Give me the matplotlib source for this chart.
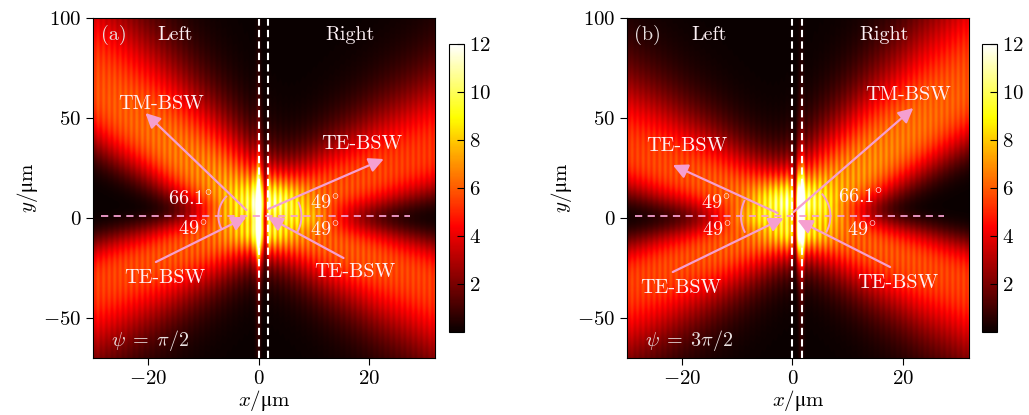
import numpy as np
import matplotlib
matplotlib.use("Agg")
import matplotlib.pyplot as plt

plt.rcParams["font.family"] = ["cmr10", "DejaVu Serif"]
plt.rcParams["mathtext.fontset"] = "cm"
plt.rcParams["axes.formatter.use_mathtext"] = True
plt.rcParams["axes.unicode_minus"] = True

# plot window (um)
x_lim = [-30, 32]
y_lim = [-70, 100]

# beam directions (deg from +x axis), peak intensity and spreading, panels (a) and (b)
angles_a = [180 - 66.1, 49.0, 180 + 49.0, 360 - 49.0]
angles_b = [180 - 49.0, 66.1, 180 + 49.0, 360 - 49.0]
amps_a = [7.3, 6.1, 6.3, 6.3]
amps_b = [6.3, 7.5, 6.3, 6.3]
spread_a = [0.11, 0.22, 0.22, 0.22]
spread_b = [0.22, 0.11, 0.22, 0.22]

# bright spot on the slit and the dark line next to it
spot_x = [-0.1, 1.5]
spot_amp = [6.5, 6.5]
gap_x = [1.05, 0.3]

panel_tags = ["(a)", "(b)"]
psi_labels = [r"$\psi\;=\;\pi/2$", r"$\psi\;=\;3\pi/2$"]
slit_x = [0.0, 1.8]

# arrows (tail, head) and text labels
arrows_a = [((-2.2, 4), (-20.5, 52.5)), ((1.8, 4.5), (22.7, 29.5)),
            ((-18.6, -22), (-2.2, 0.5)), ((15.4, -20), (1.7, 0.5))]
arrows_b = [((0.2, 3), (21.9, 55)), ((-2.7, 2.5), (-21.7, 26.5)),
            ((-21.7, -27), (-1.6, 0)), ((17.7, -24.5), (0.9, -1))]
deg = r"$^{\circ}$"
labels_a = [("TM-BSW", -17.7, 57), ("TE-BSW", 18.8, 37), ("TE-BSW", -17, -30),
            ("TE-BSW", 17.4, -27), ("66.1" + deg, -12.3, 9.5), ("49" + deg, -11.9, -5.5),
            ("49" + deg, 12.0, 7.5), ("49" + deg, 12.0, -6)]
labels_b = [("TM-BSW", 21, 61.5), ("TE-BSW", -19.2, 36), ("TE-BSW", -20.3, -35),
            ("TE-BSW", 19, -32.5), ("49" + deg, -13.9, 7.5), ("49" + deg, -13.7, -6),
            ("66.1" + deg, 12.3, 10.5), ("49" + deg, 12.6, -6)]
# angle arcs: centre (data), radius (px), start/end angle (deg, screen)
arcs_a = [((-2.2, 1), 28, 136, 207), ((1.8, 1), 33, -29, 24)]
arcs_b = [((-2.8, 1), 36, 155, 206), ((0.9, 1), 33, -28, 41)]

pink = "#f59fd0"
light = "#fdf0f4"


def field(angles, amps, spread, sx, samp, gx):
    x = np.linspace(x_lim[0], x_lim[1], 1000)
    y = np.linspace(y_lim[0], y_lim[1], 500)
    X, Y = np.meshgrid(x, y)
    dx, dy = X - 0.9, Y
    inten = np.zeros_like(X)
    for th, a, g in zip(angles, amps, spread):
        t = np.deg2rad(th)
        s = dx * np.cos(t) + dy * np.sin(t)
        tr = -dx * np.sin(t) + dy * np.cos(t)
        sp = np.clip(s, 0, None)
        w = 9 + g * sp
        gate = 1 / (1 + np.exp(-(s - 2) / 3))
        inten += a * gate * np.exp(-np.abs(tr / w) ** 2.5) * np.exp(-sp / 300)
    inten *= 1 + (0.05 + 0.13 * np.exp(-np.abs(dx) / 10)) * np.cos(2 * np.pi * dx / 1.0)
    inten += samp * np.exp(-((X - sx) / 0.6) ** 2) * np.exp(-(Y / 20) ** 2)
    inten += 1.5 * np.exp(-((X - sx) / 0.5) ** 2) * np.exp(-(Y / 70) ** 2)
    inten *= 1 - 0.6 * np.exp(-((X - gx) / 0.35) ** 2)
    return np.clip(inten, 0, 12)


fig = plt.figure(figsize=(10.29, 4.15), dpi=100)
ax_pos = [[0.0904, 0.1373, 0.3324, 0.8193], [0.6093, 0.1373, 0.3324, 0.8193]]
cax_pos = [[0.4363, 0.2, 0.0146, 0.694], [0.9543, 0.2, 0.0146, 0.694]]
sx_px = 0.3324 * 1029 / (x_lim[1] - x_lim[0])
sy_px = 0.8193 * 415 / (y_lim[1] - y_lim[0])

panels = [
    (angles_a, amps_a, spread_a, arrows_a, labels_a, arcs_a),
    (angles_b, amps_b, spread_b, arrows_b, labels_b, arcs_b),
]

for i, (angles, amps, spread, arrows, labels, arcs) in enumerate(panels):
    ax = fig.add_axes(ax_pos[i])
    img = field(angles, amps, spread, spot_x[i], spot_amp[i], gap_x[i])
    im = ax.imshow(img, cmap="hot", vmin=0, vmax=12, origin="lower",
                   extent=[x_lim[0], x_lim[1], y_lim[0], y_lim[1]],
                   aspect="auto", interpolation="antialiased")
    ax.set_xlim(x_lim)
    ax.set_ylim(y_lim)
    ax.set_xticks([-20, 0, 20])
    ax.set_yticks([-50, 0, 50, 100])
    ax.tick_params(labelsize=15, direction="out", length=5)
    ax.set_xlabel(r"$x/\mathrm{μm}$", fontsize=15, labelpad=0)
    ax.set_ylabel(r"$y/\mathrm{μm}$", fontsize=15, labelpad=2)

    for xs in slit_x:
        ax.axvline(xs, color="white", lw=1.5, ls=(0, (3.5, 2)))
    ax.plot([-28.5, 27.5], [1, 1], color=pink, lw=1.3, ls=(0, (4, 3)))

    for tail, head in arrows:
        ax.annotate("", xy=head, xytext=tail,
                    arrowprops=dict(arrowstyle="-|>", color=pink, lw=1.6,
                                    mutation_scale=22, shrinkA=0, shrinkB=0))
    for (cx, cy), r, a0, a1 in arcs:
        phi = np.deg2rad(np.linspace(a0, a1, 60))
        ax.plot(cx + r * np.cos(phi) / sx_px, cy + r * np.sin(phi) / sy_px,
                color=pink, lw=1.4)
    for txt, tx, ty in labels:
        ax.text(tx, ty, txt, color=light, fontsize=14.5, ha="center", va="center")

    ax.text(-26.3, 91.5, panel_tags[i], color="#e8e0e0", fontsize=14.5,
            ha="center", va="center")
    ax.text(-15.2, 91.5, "Left", color=light, fontsize=14.5, ha="center", va="center")
    ax.text(16.6, 91.5, "Right", color=light, fontsize=14.5, ha="center", va="center")
    ax.text(-26.8, -61, psi_labels[i], color="#e8e0e0", fontsize=14.5,
            ha="left", va="center")

    cax = fig.add_axes(cax_pos[i])
    cb = fig.colorbar(im, cax=cax)
    cb.set_ticks([2, 4, 6, 8, 10, 12])
    cax.tick_params(labelsize=15, direction="in", length=5)

fig.savefig("out.png", dpi=100)
